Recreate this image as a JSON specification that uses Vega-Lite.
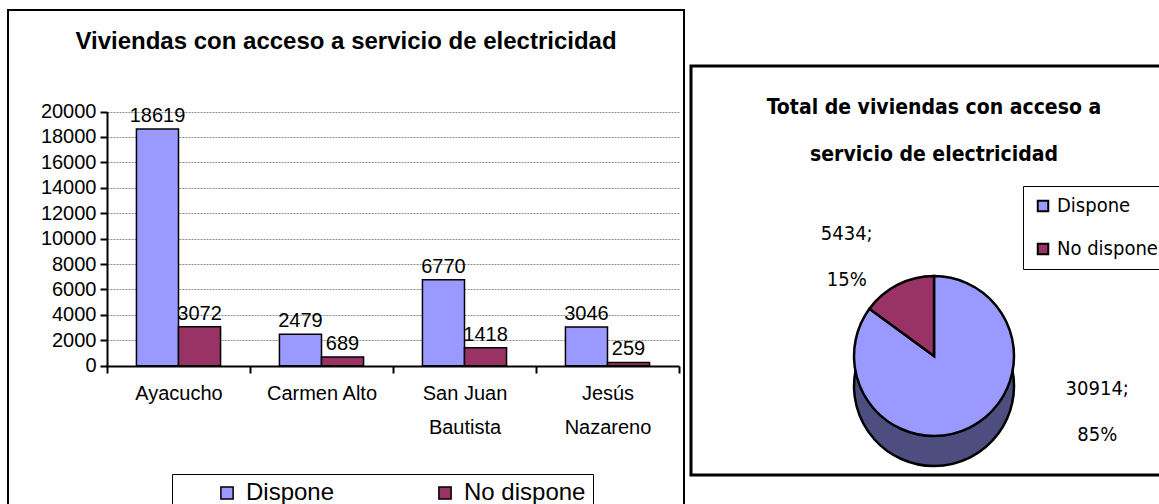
{
  "$schema": "https://vega.github.io/schema/vega-lite/v6.json",
  "padding": {"left": 7, "top": 9, "right": 0, "bottom": 0},
  "background": "white",
  "spacing": 4,
  "config": {"font": "Liberation Sans", "view": {"stroke": null}},
  "resolve": {"scale": {"color": "independent"}, "legend": {"color": "independent"}},
  "datasets": {
    "bars": [
      {"distrito": "Ayacucho", "estado": "Dispone", "viviendas": 18619},
      {"distrito": "Ayacucho", "estado": "No dispone", "viviendas": 3072},
      {"distrito": "Carmen Alto", "estado": "Dispone", "viviendas": 2479},
      {"distrito": "Carmen Alto", "estado": "No dispone", "viviendas": 689},
      {"distrito": "San Juan Bautista", "estado": "Dispone", "viviendas": 6770},
      {"distrito": "San Juan Bautista", "estado": "No dispone", "viviendas": 1418},
      {"distrito": "Jesús Nazareno", "estado": "Dispone", "viviendas": 3046},
      {"distrito": "Jesús Nazareno", "estado": "No dispone", "viviendas": 259}
    ],
    "pie": [
      {"estado": "Dispone", "viviendas": 30914, "label": "30914;\n85%"},
      {"estado": "No dispone", "viviendas": 5434, "label": "5434;\n15%"}
    ]
  },
  "hconcat": [
    {
      "width": 676,
      "height": 500,
      "view": {"stroke": "black", "strokeWidth": 2},
      "title": {
        "text": "Viviendas con acceso a servicio de electricidad",
        "fontSize": 24,
        "fontWeight": "bold",
        "color": "black",
        "anchor": "middle",
        "offset": -44
      },
      "data": {"name": "bars"},
      "encoding": {
        "x": {
          "field": "distrito",
          "type": "nominal",
          "sort": ["Ayacucho", "Carmen Alto", "San Juan Bautista", "Jesús Nazareno"],
          "scale": {"range": [99, 671], "paddingInner": 0, "paddingOuter": 0},
          "axis": {
            "title": null,
            "orient": "bottom",
            "offset": -144,
            "labelAngle": 0,
            "tickBand": "extent",
            "labelFontSize": 20,
            "labelColor": "black",
            "labelPadding": 10,
            "labelLineHeight": 34,
            "labelExpr": "datum.label == 'San Juan Bautista' ? ['San Juan', 'Bautista'] : datum.label == 'Jesús Nazareno' ? ['Jesús', 'Nazareno'] : datum.label",
            "domainColor": "black",
            "domainWidth": 2,
            "tickColor": "black",
            "tickWidth": 2,
            "tickSize": 7
          }
        },
        "xOffset": {
          "field": "estado",
          "type": "nominal",
          "sort": ["Dispone", "No dispone"],
          "scale": {"paddingOuter": 0.7, "paddingInner": 0}
        },
        "y": {
          "field": "viviendas",
          "type": "quantitative",
          "scale": {"domain": [0, 20000], "range": [355.7, 101.5]},
          "axis": {
            "title": null,
            "orient": "left",
            "offset": -99,
            "values": [0, 2000, 4000, 6000, 8000, 10000, 12000, 14000, 16000, 18000, 20000],
            "format": "d",
            "labelFontSize": 20,
            "labelColor": "black",
            "labelPadding": 4,
            "domainColor": "black",
            "domainWidth": 2,
            "tickColor": "black",
            "tickWidth": 2,
            "tickSize": 7,
            "grid": true,
            "gridColor": "#8c8c8c",
            "gridDash": [2, 1],
            "gridWidth": 1
          }
        }
      },
      "layer": [
        {
          "mark": {"type": "bar", "stroke": "black", "strokeWidth": 1.5},
          "encoding": {
            "color": {
              "field": "estado",
              "type": "nominal",
              "scale": {"domain": ["Dispone", "No dispone"], "range": ["#9999FF", "#993366"]},
              "legend": {
                "title": " ",
                "titleOrient": "left",
                "titleFontSize": 24,
                "titlePadding": 36,
                "orient": "none",
                "legendX": 164,
                "legendY": 464,
                "direction": "horizontal",
                "strokeColor": "black",
                "padding": 7,
                "labelFontSize": 24,
                "labelColor": "black",
                "labelOffset": 7,
                "symbolType": "square",
                "symbolSize": 150,
                "symbolStrokeColor": "black",
                "symbolStrokeWidth": 1.5,
                "symbolOpacity": 1,
                "columnPadding": 98
              }
            }
          }
        },
        {
          "mark": {"type": "text", "baseline": "bottom", "dy": -3, "fontSize": 20, "color": "black"},
          "encoding": {"text": {"field": "viviendas", "type": "quantitative", "format": "d"}}
        }
      ]
    },
    {
      "spacing": 9,
      "vconcat": [
        {
          "width": 480,
          "height": 45,
          "data": {"values": [{"t": ""}]},
          "mark": {"type": "text"},
          "encoding": {"text": {"field": "t", "type": "nominal"}}
        },
        {
          "width": 480,
          "height": 409,
          "view": {"stroke": "black", "strokeWidth": 3},
          "title": {
            "text": ["Total de viviendas con acceso a", "servicio de electricidad"],
            "font": "DejaVu Sans Condensed, Liberation Sans, sans-serif",
            "fontSize": 21,
            "fontWeight": "bold",
            "color": "black",
            "anchor": "middle",
            "lineHeight": 47,
            "dx": 3,
            "offset": -99
          },
          "data": {"name": "pie"},
          "encoding": {
            "theta": {"field": "viviendas", "type": "quantitative", "stack": true},
            "order": {"field": "estado", "sort": "ascending"}
          },
          "layer": [
            {
              "mark": {"type": "arc", "radius": 80, "xOffset": 3, "yOffset": 115.5, "fill": "#4D4D80", "stroke": "black", "strokeWidth": 2.5}
            },
            {
              "mark": {"type": "arc", "radius": 80, "xOffset": 3, "yOffset": 85.5, "stroke": "black", "strokeWidth": 2.5},
              "encoding": {
                "color": {
                  "field": "estado",
                  "type": "nominal",
                  "scale": {"domain": ["Dispone", "No dispone"], "range": ["#9999FF", "#993366"]},
                  "legend": {
                    "title": null,
                    "orient": "none",
                    "legendX": 332,
                    "legendY": 176,
                    "direction": "vertical",
                    "strokeColor": "black",
                    "padding": 10,
                    "labelFont": "DejaVu Sans Condensed, Liberation Sans, sans-serif",
                    "labelFontSize": 20,
                    "labelColor": "black",
                    "labelOffset": 4,
                    "symbolType": "square",
                    "symbolSize": 110,
                    "symbolStrokeColor": "black",
                    "symbolStrokeWidth": 2,
                    "symbolOpacity": 1,
                    "rowPadding": 23
                  }
                }
              }
            },
            {
              "mark": {"type": "text", "radius": 100, "xOffset": 3, "yOffset": 85.5, "dx": 118, "dy": -56, "lineBreak": "\n", "lineHeight": 46, "font": "DejaVu Sans Condensed, Liberation Sans, sans-serif", "fontSize": 20, "color": "black"},
              "encoding": {"text": {"condition": {"test": "datum.estado == 'Dispone'", "field": "label", "type": "nominal"}, "value": ""}}
            },
            {
              "mark": {"type": "text", "radius": 100, "xOffset": 3, "yOffset": 85.5, "dx": -42, "dy": -33, "lineBreak": "\n", "lineHeight": 46, "font": "DejaVu Sans Condensed, Liberation Sans, sans-serif", "fontSize": 20, "color": "black"},
              "encoding": {"text": {"condition": {"test": "datum.estado == 'No dispone'", "field": "label", "type": "nominal"}, "value": ""}}
            }
          ]
        }
      ]
    }
  ]
}
